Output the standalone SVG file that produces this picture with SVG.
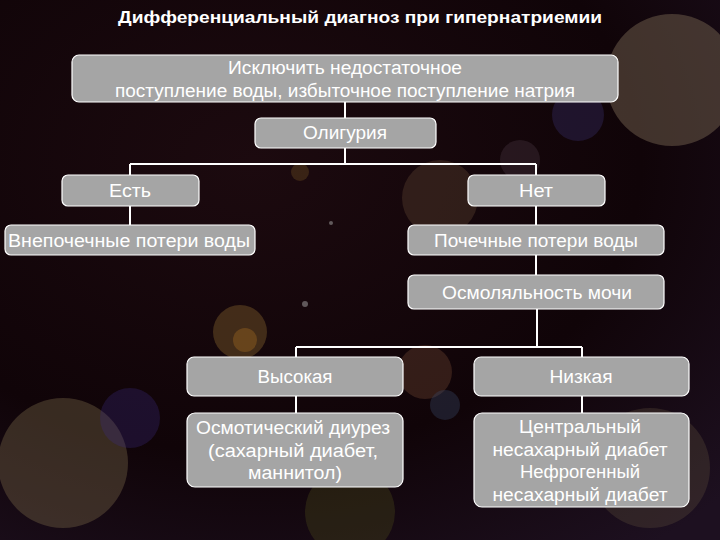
<svg xmlns="http://www.w3.org/2000/svg" width="720" height="540" viewBox="0 0 720 540">
<defs>
<radialGradient id="bg" cx="0.35" cy="0.3" r="0.9">
<stop offset="0" stop-color="#1c0a0f"/>
<stop offset="0.6" stop-color="#100408"/>
<stop offset="1" stop-color="#1d1020"/>
</radialGradient>
</defs>
<style>
.box{fill:#a5a5a5;stroke:#ffffff;stroke-width:1.2}
.t{font-family:"Liberation Sans",Arial,sans-serif;font-size:18px;fill:#ffffff;text-anchor:middle}
.title{font-family:"Liberation Sans",Arial,sans-serif;font-size:17px;font-weight:bold;fill:#ffffff;text-anchor:middle}
.c{fill:none;stroke:#ffffff;stroke-width:2}
</style>
<rect width="720" height="540" fill="url(#bg)"/>
<g id="bokeh">
<circle cx="672" cy="80" r="66" fill="#6a5a48" opacity="0.55"/>
<circle cx="578" cy="115" r="26" fill="#3a3070" opacity="0.35"/>
<circle cx="650" cy="468" r="60" fill="#5a4a3a" opacity="0.35"/>
<circle cx="63" cy="463" r="65" fill="#6a5a40" opacity="0.45"/>
<circle cx="130" cy="418" r="30" fill="#3a2a80" opacity="0.3"/>
<circle cx="240" cy="332" r="27" fill="#7a5a2a" opacity="0.45"/>
<circle cx="245" cy="340" r="12" fill="#a06a20" opacity="0.4"/>
<circle cx="425" cy="372" r="27" fill="#6a4030" opacity="0.4"/>
<circle cx="445" cy="405" r="15" fill="#3a4a6a" opacity="0.35"/>
<circle cx="440" cy="198" r="38" fill="#5a4030" opacity="0.4"/>
<circle cx="520" cy="160" r="20" fill="#4a3a45" opacity="0.35"/>
<circle cx="350" cy="512" r="45" fill="#4a4a1a" opacity="0.35"/>
<circle cx="300" cy="172" r="9" fill="#6a4a20" opacity="0.4"/>
<circle cx="305" cy="304" r="3" fill="#aaaaaa" opacity="0.5"/>
<circle cx="331" cy="223" r="2" fill="#aaaaaa" opacity="0.5"/>
</g>
<text class="title" x="360" y="23" textLength="484" lengthAdjust="spacingAndGlyphs">Дифференциальный диагноз при гипернатриемии</text>
<g id="connectors">
<path class="c" d="M345 102 V118"/>
<path class="c" d="M345 148 V164 M130 164 H536 M130 164 V175 M536 164 V175"/>
<path class="c" d="M130 206 V225"/>
<path class="c" d="M536 206 V225"/>
<path class="c" d="M536 255 V275"/>
<path class="c" d="M537 309 V347 M296 347 H582 M296 347 V357 M582 347 V357"/>
<path class="c" d="M296 396 V413"/>
<path class="c" d="M582 396 V413"/>
</g>
<g id="n-exclude">
<rect class="box" x="72" y="55" width="546" height="47" rx="7"/>
<text class="t" x="345" y="74" textLength="234" lengthAdjust="spacingAndGlyphs">Исключить недостаточное</text>
<text class="t" x="345" y="97" textLength="460" lengthAdjust="spacingAndGlyphs">поступление воды, избыточное поступление натрия</text>
</g>
<g id="n-oliguria">
<rect class="box" x="255" y="118" width="181" height="30" rx="6"/>
<text class="t" x="345" y="139" textLength="84" lengthAdjust="spacingAndGlyphs">Олигурия</text>
</g>
<g id="n-yes">
<rect class="box" x="62" y="175" width="137" height="31" rx="6"/>
<text class="t" x="130" y="197" textLength="42" lengthAdjust="spacingAndGlyphs">Есть</text>
</g>
<g id="n-no">
<rect class="box" x="468" y="175" width="137" height="31" rx="6"/>
<text class="t" x="536" y="197" textLength="34" lengthAdjust="spacingAndGlyphs">Нет</text>
</g>
<g id="n-extrarenal">
<rect class="box" x="5" y="225" width="250" height="30" rx="6"/>
<text class="t" x="129" y="247" textLength="242" lengthAdjust="spacingAndGlyphs">Внепочечные потери воды</text>
</g>
<g id="n-renal">
<rect class="box" x="408" y="225" width="256" height="30" rx="6"/>
<text class="t" x="536" y="247" textLength="204" lengthAdjust="spacingAndGlyphs">Почечные потери воды</text>
</g>
<g id="n-osm">
<rect class="box" x="408" y="275" width="256" height="34" rx="6"/>
<text class="t" x="537" y="299" textLength="190" lengthAdjust="spacingAndGlyphs">Осмоляльность мочи</text>
</g>
<g id="n-high">
<rect class="box" x="187" y="357" width="216" height="39" rx="7"/>
<text class="t" x="295" y="383" textLength="75" lengthAdjust="spacingAndGlyphs">Высокая</text>
</g>
<g id="n-low">
<rect class="box" x="474" y="357" width="215" height="39" rx="7"/>
<text class="t" x="581" y="383" textLength="63" lengthAdjust="spacingAndGlyphs">Низкая</text>
</g>
<g id="n-osmotic">
<rect class="box" x="187" y="413" width="216" height="74" rx="8"/>
<text class="t" x="293" y="434" textLength="194" lengthAdjust="spacingAndGlyphs">Осмотический диурез</text>
<text class="t" x="293" y="457" textLength="170" lengthAdjust="spacingAndGlyphs">(сахарный диабет,</text>
<text class="t" x="295" y="479" textLength="94" lengthAdjust="spacingAndGlyphs">маннитол)</text>
</g>
<g id="n-di">
<rect class="box" x="474" y="413" width="215" height="94" rx="8"/>
<text class="t" x="580" y="433" textLength="122" lengthAdjust="spacingAndGlyphs">Центральный</text>
<text class="t" x="580" y="456" textLength="175" lengthAdjust="spacingAndGlyphs">несахарный диабет</text>
<text class="t" x="580" y="478" textLength="120" lengthAdjust="spacingAndGlyphs">Нефрогенный</text>
<text class="t" x="580" y="501" textLength="175" lengthAdjust="spacingAndGlyphs">несахарный диабет</text>
</g>
</svg>
